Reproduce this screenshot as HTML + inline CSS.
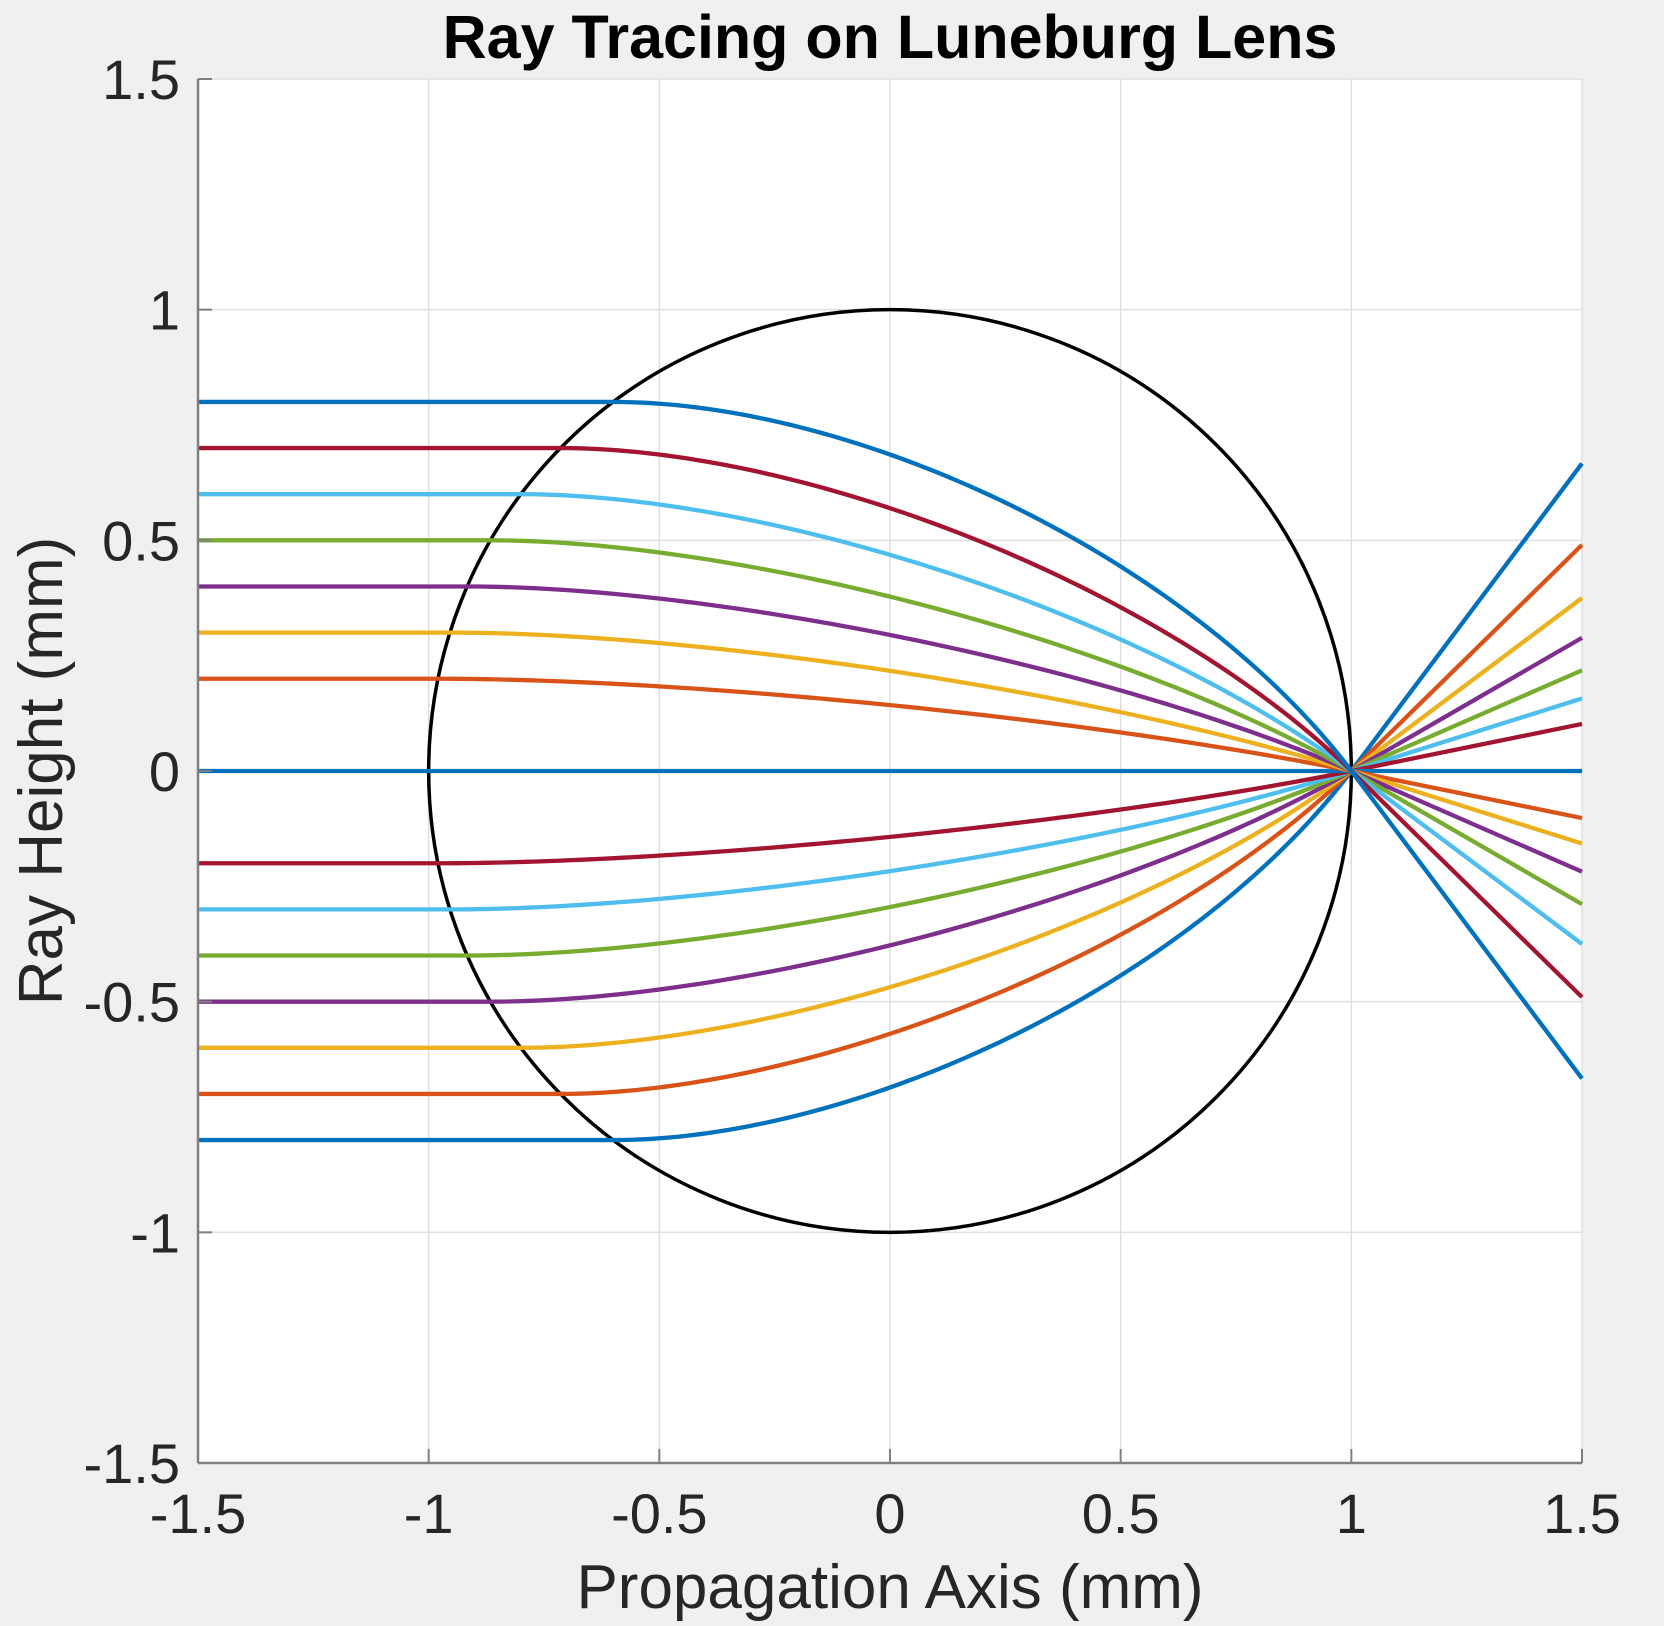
<!DOCTYPE html>
<html><head><meta charset="utf-8"><style>
html,body{margin:0;padding:0;background:#f0f0f0;}
svg{display:block;font-family:"Liberation Sans",sans-serif;}
</style></head><body>
<svg id="chart" width="1664" height="1626" viewBox="0 0 1664 1626">
<rect x="198" y="79" width="1384" height="1384" fill="#fff"/>
<g id="grid"></g>
<g id="marks"></g>
<g id="axes"></g>
<text x="890" y="58" text-anchor="middle" font-size="61" font-weight="bold" fill="#000">Ray Tracing on Luneburg Lens</text>
<text x="890" y="1608" text-anchor="middle" font-size="62" fill="#262626">Propagation Axis (mm)</text>
<text transform="translate(62,771) rotate(-90)" text-anchor="middle" font-size="62" fill="#262626">Ray Height (mm)</text>
</svg>
<script>
const heights = [-0.8,-0.7,-0.6,-0.5,-0.4,-0.3,-0.2,0,0.2,0.3,0.4,0.5,0.6,0.7,0.8];
const colors = ["#0072BD","#D95319","#EDB120","#7E2F8E","#77AC30","#4DBEEE","#A2142F"];
const xTicks = [-1.5,-1,-0.5,0,0.5,1,1.5];
const yTicks = [-1.5,-1,-0.5,0,0.5,1,1.5];
const xTickLabels = ["-1.5","-1","-0.5","0","0.5","1","1.5"];
const yTickLabels = ["-1.5","-1","-0.5","0","0.5","1","1.5"];
const lensRadius = 1;
const xMin=-1.5,xMax=1.5,yMin=-1.5,yMax=1.5;
const L=198,R=1582,T=79,B=1463;
const sx=v=>L+(v-xMin)/(xMax-xMin)*(R-L);
const sy=v=>B-(v-yMin)/(yMax-yMin)*(B-T);
const NS="http://www.w3.org/2000/svg";
function mk(tag,attrs,parent){const e=document.createElementNS(NS,tag);for(const k in attrs)e.setAttribute(k,attrs[k]);parent.appendChild(e);return e;}
const grid=document.getElementById('grid'),marks=document.getElementById('marks'),axes=document.getElementById('axes');
xTicks.forEach((t,i)=>{
 const g=mk('line',{x1:sx(t),x2:sx(t),y1:T,y2:B,stroke:'#dfdfdf','stroke-width':1.5},grid);
 
 
 const tk=mk('line',{x1:sx(t),x2:sx(t),y1:B,y2:B-14,stroke:'#808080','stroke-width':2},axes);
 
 
 const tx=mk('text',{x:sx(t),y:1533,'text-anchor':'middle','font-size':56,fill:'#262626'},axes);
 tx.textContent=xTickLabels[i];
 
 
});
yTicks.forEach((t,i)=>{
 const g=mk('line',{x1:L,x2:R,y1:sy(t),y2:sy(t),stroke:'#dfdfdf','stroke-width':1.5},grid);
 
 
 const tk=mk('line',{x1:L,x2:L+14,y1:sy(t),y2:sy(t),stroke:'#808080','stroke-width':2},axes);
 
 
 const tx=mk('text',{x:180,y:sy(t)+20,'text-anchor':'end','font-size':56,fill:'#262626'},axes);
 tx.textContent=yTickLabels[i];
 
 
});
const ax1=mk('line',{x1:L,x2:L,y1:T,y2:B,stroke:'#808080','stroke-width':2.5},axes);


const ax2=mk('line',{x1:L,x2:R,y1:B,y2:B,stroke:'#808080','stroke-width':2.5},axes);


const circ=mk('ellipse',{cx:sx(0),cy:sy(0),rx:sx(lensRadius)-sx(0),ry:sy(0)-sy(lensRadius),fill:'none',stroke:'#000','stroke-width':3.5},marks);


heights.forEach((h,i)=>{
 const c=Math.sqrt(1-h*h);
 const pts=[[xMin,h],[-c,h]];
 const N=80;
 for(let k=1;k<=N;k++){const t=k/N*Math.PI/2;pts.push([-c*Math.cos(t)+Math.sin(t),h*Math.cos(t)]);}
 pts.push([xMax,-h/c*(xMax-1)]);
 const d=pts.map((p,j)=>(j?'L':'M')+sx(p[0]).toFixed(2)+','+sy(p[1]).toFixed(2)).join(' ');
 const p=mk('path',{d:d,fill:'none',stroke:colors[i%colors.length],'stroke-width':4.3,'stroke-linejoin':'round'},marks);
 
 
});
</script>
</body></html>
